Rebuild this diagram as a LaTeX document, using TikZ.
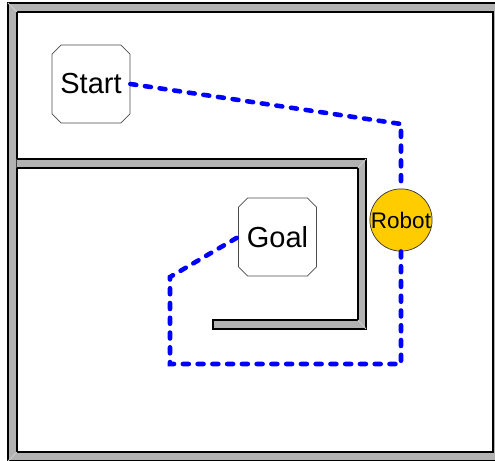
\documentclass[tikz,border=0pt]{standalone}
\usepackage{fontspec}
\setmainfont{Liberation Sans}
\usetikzlibrary{shapes.misc,calc}
\definecolor{wallgray}{HTML}{B2B2B2}
\definecolor{robotgold}{HTML}{FFCC00}
\tikzset{
%Define style for the walls of the maze
wall/.style={fill=wallgray, draw=black, line width=0.7pt},
bevel/.style={draw=gray!40, line width=0.5pt},
%Define style for the places and the robot
place/.style={chamfered rectangle, chamfered rectangle xsep=2.6pt, chamfered rectangle ysep=2.6pt,
  draw=black!70, fill=white, minimum width=1.56cm, minimum height=1.56cm, inner sep=0pt,
  font=\fontsize{16.5}{20}\selectfont},
robot/.style={circle, draw=black!80, fill=robotgold, minimum size=1.2cm, inner sep=0pt,
  font=\fontsize{12.8}{14}\selectfont},
%Define style for the planned route
route/.style={draw=blue, line width=2.6pt, line cap=round, dash pattern=on 3.4pt off 5pt},
}

\begin{document}
\begin{tikzpicture}[scale=1]
    \useasboundingbox (0,0) rectangle (9.9,9.2);
    \clip (0,0) rectangle (9.9,9.2);

    % Outer frame
    \filldraw[wall, even odd rule] (0.16,-0.02) rectangle (10.2,9.14) (0.34,0.16) rectangle (9.86,8.96);
    \draw[bevel] (0.16,9.14) -- (0.34,8.96) (0.16,-0.02) -- (0.34,0.16);

    % Inner wall
    \filldraw[wall] (0.33,6.02) -- (7.32,6.02) -- (7.32,2.62) -- (4.26,2.62) -- (4.26,2.80)
      -- (7.16,2.80) -- (7.16,5.84) -- (0.33,5.84);
    \draw[bevel] (7.32,6.02) -- (7.16,5.84) (7.32,2.62) -- (7.16,2.80);

    % Places and robot
    \node[place] (start) at (1.82,7.52) {Start};
    \node[place] (goal) at (5.55,4.46) {Goal};
    \node[robot] (robot) at (8.02,4.80) {Robot};

    % Let us define the corners of the route
    \path
    coordinate (c1) at (8.02,6.72)
    coordinate (c2) at (8.02,1.92)
    coordinate (c3) at (3.40,1.92)
    coordinate (c4) at (3.40,3.66);

    \draw[route] (start.east) -- (c1) -- (robot.north);
    \draw[route] (robot.south) -- (c2) -- (c3) -- (c4) -- (goal.west);
\end{tikzpicture}
\end{document}
